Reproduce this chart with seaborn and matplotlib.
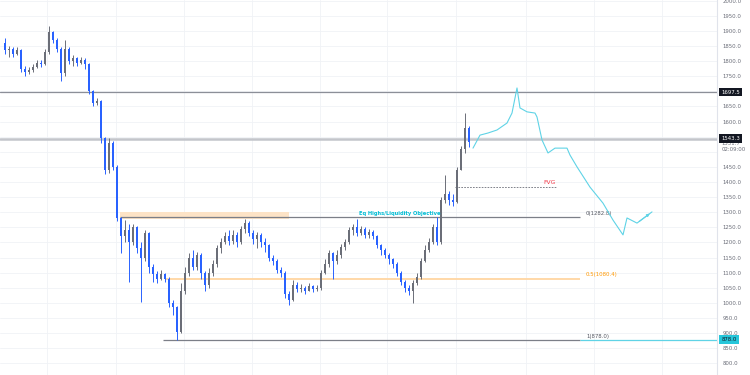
import numpy as np
import pandas as pd
import matplotlib
matplotlib.use("Agg")
import matplotlib.pyplot as plt
import matplotlib.transforms as mtrans
import seaborn as sns

# ---------------- data ----------------
first_open = 1860
close = [
    1835, 1840, 1825, 1835, 1775, 1765, 1770, 1780, 1795, 1790,
    1830, 1895, 1870, 1840, 1760, 1840, 1800, 1810, 1795, 1805,
    1790, 1700, 1660, 1668, 1545, 1440, 1530, 1450, 1280, 1220,
    1240, 1200, 1250, 1180, 1150, 1230, 1120, 1095, 1080, 1095,
    1080, 1000, 985, 905, 1040, 1100, 1150, 1120, 1160, 1100,
    1060, 1100, 1130, 1180, 1200, 1220, 1205, 1225, 1200, 1245,
    1265, 1230, 1210, 1225, 1200, 1190, 1150, 1140, 1110, 1100,
    1030, 1010, 1060, 1045, 1050, 1040, 1055, 1045, 1048, 1100,
    1130, 1165, 1140, 1160, 1185, 1200, 1240, 1250, 1230, 1245,
    1225, 1235, 1220, 1190, 1175, 1160, 1145, 1130, 1100, 1070,
    1050, 1040, 1065, 1085, 1140, 1175, 1200, 1250, 1200, 1340,
    1360, 1340, 1335, 1440, 1510, 1580, 1532]
high = [
    1876, 1850, 1845, 1848, 1840, 1785, 1780, 1790, 1805, 1805,
    1840, 1916, 1900, 1875, 1845, 1870, 1845, 1820, 1815, 1815,
    1810, 1795, 1705, 1678, 1670, 1550, 1545, 1535, 1455, 1285,
    1275, 1260, 1262, 1255, 1200, 1240, 1235, 1130, 1105, 1108,
    1100, 1085, 1010, 990, 1066, 1120, 1165, 1175, 1170, 1165,
    1105, 1115, 1142, 1190, 1215, 1235, 1241, 1240, 1235, 1255,
    1276, 1270, 1240, 1235, 1230, 1215, 1195, 1160, 1145, 1118,
    1105, 1040, 1075, 1070, 1062, 1055, 1065, 1060, 1060, 1110,
    1145, 1175, 1170, 1175, 1195, 1210, 1250, 1262, 1276, 1255,
    1250, 1245, 1240, 1225, 1195, 1180, 1165, 1150, 1135, 1105,
    1075, 1060, 1075, 1100, 1150, 1190, 1215, 1262, 1284, 1350,
    1423, 1370, 1360, 1450, 1520, 1628, 1585]
low = [
    1825, 1815, 1812, 1820, 1765, 1750, 1758, 1765, 1778, 1780,
    1788, 1825, 1860, 1830, 1735, 1750, 1790, 1785, 1785, 1790,
    1775, 1690, 1650, 1655, 1530, 1425, 1430, 1440, 1270, 1165,
    1200, 1069, 1190, 1165, 1003, 1140, 1100, 1070, 1065, 1075,
    1070, 985, 960, 878, 900, 1030, 1090, 1110, 1110, 1080,
    1040, 1050, 1090, 1120, 1165, 1195, 1190, 1195, 1185, 1195,
    1230, 1220, 1195, 1180, 1185, 1170, 1140, 1125, 1100, 1085,
    1015, 993, 1005, 1035, 1035, 1030, 1038, 1035, 1040, 1042,
    1095, 1120, 1080, 1130, 1150, 1175, 1195, 1225, 1220, 1225,
    1215, 1215, 1210, 1180, 1160, 1150, 1130, 1115, 1090, 1060,
    1035, 1025, 1000, 1060, 1080, 1135, 1170, 1195, 1190, 1195,
    1330, 1325, 1320, 1330, 1440, 1495, 1515]

# projected path (bar index, price)
proj_x = [117, 118.75, 120.75, 123, 125.5, 126.75, 128, 128.75, 130.5, 132.5,
          133, 134.25, 135.75, 137.5, 140.5, 141.25, 143, 146.25, 149.5, 152,
          154.5, 155.5, 158, 161.75]
proj_y = [1512, 1555, 1562, 1572, 1595, 1628, 1711, 1645, 1632, 1628,
          1615, 1539, 1496, 1512, 1512, 1489, 1450, 1383, 1330, 1274,
          1225, 1281, 1264, 1301]

level_high = 1697.5
level_last = 1543.3
fib_levels = [1282.8, 1080.4, 878.0]
fib_labels = ["0(1282.8)", "0.5(1080.4)", "1(878.0)"]
fvg_level = 1383
eq_box = (1278, 1301)
last_price = "1531.7"
countdown = "02:09:00"
yticks = [t for t in range(800, 2001, 50) if t not in (1500, 1550, 1700)]

# ---------------- helpers ----------------
def px(p):
    """pixel x (in 750px figure) -> bar index"""
    return (p - 5) / 4.0

opens = [first_open] + close[:-1]
df = pd.DataFrame({"i": np.arange(len(close)), "open": opens, "close": close,
                   "high": high, "low": low})
df["up"] = df["close"] >= df["open"]

UP = "#6b6e78"
DOWN = "#2962ff"
df["color"] = np.where(df["up"], UP, DOWN)

sns.set_theme(style="white")
plt.rcParams['font.family'] = ['DejaVu Sans']

fig = plt.figure(figsize=(7.5, 3.75), dpi=100)
ax = fig.add_axes([0, 0, 717 / 750, 1])
ax.set_xlim(-1.25, 178)
ax.set_ylim(761.5, 2002)

# grid
for t in range(800, 2001, 50):
    ax.axhline(t, color="#f0f2f6", lw=0.6, zorder=0)
for p in [47, 116, 184, 252, 320, 387, 456, 526, 594, 662]:
    ax.axvline(px(p), color="#f0f2f6", lw=0.6, zorder=0)

# eq highs box
ax.fill_between([px(120), px(289)], eq_box[0], eq_box[1], color="#fde3c6", lw=0, zorder=1)

# horizontal levels
ax.axhline(level_high, color="#8c8f98", lw=0.9, zorder=2)
ax.axhline(level_last, color="#c3c5cb", lw=1.8, zorder=2)

ax.hlines(fib_levels[0], px(120), px(580), color="#7c7f88", lw=0.9, zorder=2)
ax.hlines(fib_levels[1], px(165), px(580), color="#ffd8a8", lw=1.4, zorder=2)
ax.hlines(fib_levels[2], px(163), px(580), color="#7c7f88", lw=0.9, zorder=2)
ax.hlines(fib_levels[2], px(580), 178, color="#5fd3e6", lw=0.9, zorder=2)

fib_colors = ["#555862", "#ff9800", "#555862"]
for lv, lab, col in zip(fib_levels, fib_labels, fib_colors):
    ax.text(px(586), lv + 4, lab, fontsize=3.9, color=col, ha="left", va="bottom", zorder=5)

# FVG
ax.hlines(fvg_level, px(455), px(557), color="#6b6e78", lw=0.6, linestyles=(0, (2, 1.5)), zorder=2)
ax.text(px(549), fvg_level + 6, "FVG", fontsize=4.3, color="#f23645", ha="center", va="bottom", zorder=5)

ax.text(px(400), 1286, "Eq Highs/Liquidity Objective", fontsize=3.7, color="#00bcd4",
        fontweight="bold", ha="center", va="bottom", zorder=5)

# candles
ax.vlines(df["i"], df["low"], df["high"], colors=df["color"], lw=0.7, zorder=3)
body = (df["close"] - df["open"]).abs().clip(lower=2)
ax.bar(df["i"], body, bottom=df[["open", "close"]].min(axis=1), width=0.6,
       color=df["color"], lw=0, zorder=4)

# projection
proj = pd.DataFrame({"x": proj_x, "y": proj_y})
sns.lineplot(data=proj, x="x", y="y", sort=False, color="#5fd3e6", lw=0.8, ax=ax, zorder=5)
ax.annotate("", xy=(proj_x[-1], proj_y[-1]), xytext=(proj_x[-2], proj_y[-2]),
            arrowprops=dict(arrowstyle="-|>", color="#5fd3e6", lw=0.8, mutation_scale=4), zorder=5)
ax.set_xlabel("")
ax.set_ylabel("")

# axis styling
for s in ["top", "left", "bottom"]:
    ax.spines[s].set_visible(False)
ax.spines["right"].set_color("#e0e3eb")
ax.spines["right"].set_linewidth(0.8)
ax.set_xticks([])
ax.yaxis.tick_right()
ax.set_yticks(yticks)
ax.set_yticklabels([f"{t:.1f}" for t in yticks])
ax.tick_params(axis="y", length=0, pad=4, labelsize=3.9, labelcolor="#6a6d78")

trans = mtrans.blended_transform_factory(ax.transAxes, ax.transData)
box_kw = dict(boxstyle="square,pad=0.35", ec="none")
ax.text(1.006, level_high, f"{level_high:.1f}", transform=trans, fontsize=3.9, color="white",
        ha="left", va="center", bbox=dict(fc="#131722", **box_kw), zorder=6, clip_on=False)
ax.text(1.006, level_last, f"{level_last:.1f}", transform=trans, fontsize=3.9, color="white",
        ha="left", va="center", bbox=dict(fc="#131722", **box_kw), zorder=6, clip_on=False)
ax.text(1.006, 1526, last_price, transform=trans, fontsize=3.9, color="#6a6d78",
        ha="left", va="center", clip_on=False)
ax.text(1.006, 1508, countdown, transform=trans, fontsize=3.9, color="#6a6d78",
        ha="left", va="center", clip_on=False)
ax.text(1.006, fib_levels[2], f"{fib_levels[2]:.1f}", transform=trans, fontsize=3.9, color="#131722",
        ha="left", va="center", bbox=dict(fc="#26c6da", **box_kw), zorder=6, clip_on=False)

fig.savefig("out.png", dpi=100, facecolor="white")
